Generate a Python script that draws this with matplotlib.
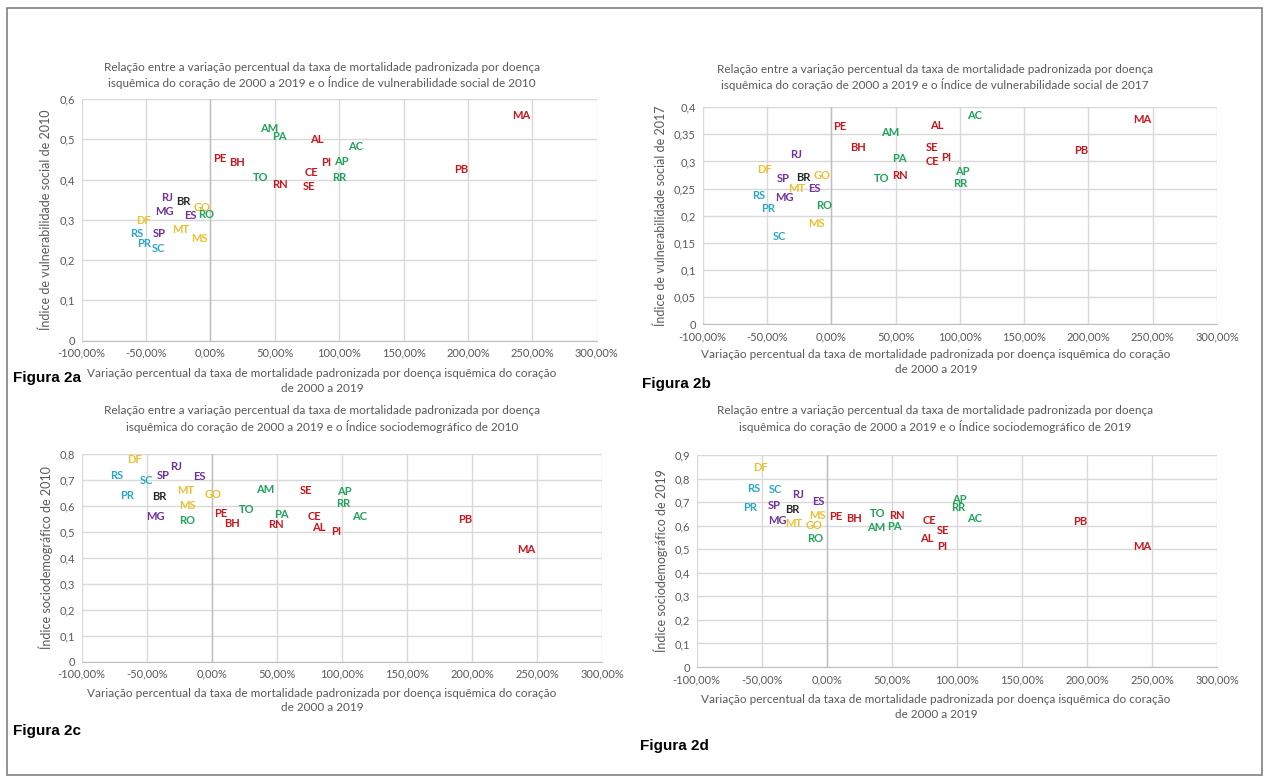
import matplotlib
matplotlib.use("Agg")
import matplotlib.pyplot as plt
from matplotlib.patches import Rectangle

W, H = 1269, 780
plt.rcParams['font.family'] = ['Lato', 'DejaVu Sans']

# ---- data (label positions) ----
states = ["AC", "AL", "AM", "AP", "BH", "BR", "CE", "DF", "ES", "GO", "MA", "MG", "MS",
          "MT", "PA", "PB", "PE", "PI", "PR", "RJ", "RN", "RO", "RR", "RS", "SC", "SE", "SP", "TO"]
region = ["N", "NE", "N", "N", "NE", "BR", "NE", "CO", "SE", "CO", "NE", "SE", "CO",
          "CO", "N", "NE", "NE", "NE", "S", "SE", "NE", "N", "N", "S", "S", "NE", "SE", "N"]

# Figura 2a: IVS 2010
x_2a = [112.8, 82.3, 46.0, 101.7, 21.0, -20.7, 78.4, -52.2, -15.3, -6.2, 241.7, -36.0, -8.8,
        -23.0, 53.8, 194.9, 7.2, 90.0, -51.4, -33.6, 53.8, -3.6, 100.4, -57.4, -40.1, 76.6, -40.1, 39.1]
y_2a = [0.482, 0.500, 0.527, 0.444, 0.442, 0.346, 0.417, 0.298, 0.312, 0.331, 0.560, 0.320, 0.254,
        0.275, 0.508, 0.424, 0.453, 0.442, 0.242, 0.356, 0.387, 0.314, 0.405, 0.266, 0.229, 0.382, 0.266, 0.405]
# Figura 2b: IVS 2017
x_2b = [111.6, 82.3, 45.9, 101.7, 20.8, -21.5, 78.4, -51.9, -13.5, -7.3, 241.9, -36.1, -11.7,
        -27.2, 53.2, 194.7, 6.5, 89.5, -48.8, -27.2, 53.2, -5.2, 100.4, -56.6, -40.2, 78.4, -37.6, 38.9]
y_2b = [0.384, 0.366, 0.354, 0.281, 0.326, 0.270, 0.300, 0.286, 0.251, 0.274, 0.377, 0.234, 0.186,
        0.251, 0.305, 0.320, 0.364, 0.307, 0.214, 0.312, 0.275, 0.219, 0.260, 0.237, 0.161, 0.326, 0.268, 0.268]
# Figura 2c: IDS 2010
x_2c = [113.3, 82.6, 41.0, 102.1, 15.4, -40.5, 78.7, -59.7, -9.5, 1.3, 241.8, -43.6, -18.5,
        -20.0, 53.8, 194.8, 7.2, 95.6, -64.9, -27.7, 49.2, -18.7, 101.3, -73.1, -50.0, 72.3, -37.2, 26.9]
y_2c = [0.559, 0.519, 0.666, 0.656, 0.534, 0.637, 0.559, 0.781, 0.714, 0.643, 0.434, 0.559, 0.601,
        0.660, 0.568, 0.550, 0.570, 0.501, 0.639, 0.752, 0.530, 0.546, 0.611, 0.718, 0.697, 0.662, 0.720, 0.585]
# Figura 2d: IDS 2019
x_2d = [113.3, 76.9, 37.7, 102.1, 21.0, -26.4, 78.7, -51.3, -6.2, -9.7, 242.3, -37.9, -6.9,
        -25.6, 51.8, 194.8, 7.2, 89.0, -59.0, -21.8, 53.8, -9.0, 100.8, -56.4, -39.5, 89.0, -40.5, 39.2]
y_2d = [0.629, 0.545, 0.593, 0.711, 0.629, 0.669, 0.624, 0.846, 0.704, 0.600, 0.511, 0.622, 0.644,
        0.611, 0.597, 0.617, 0.638, 0.511, 0.679, 0.733, 0.644, 0.545, 0.678, 0.758, 0.752, 0.580, 0.687, 0.651]

x_ticks = [-100, -50, 0, 50, 100, 150, 200, 250, 300]
titles = [
    "Relação entre a variação percentual da taxa de mortalidade padronizada por doença\nisquêmica do coração de 2000 a 2019 e o Índice de vulnerabilidade social de 2010",
    "Relação entre a variação percentual da taxa de mortalidade padronizada por doença\nisquêmica do coração de 2000 a 2019 e o Índice de vulnerabilidade social de 2017",
    "Relação entre a variação percentual da taxa de mortalidade padronizada por doença\nisquêmica do coração de 2000 a 2019 e o Índice sociodemográfico de 2010",
    "Relação entre a variação percentual da taxa de mortalidade padronizada por doença\nisquêmica do coração de 2000 a 2019 e o Índice sociodemográfico de 2019",
]
ylabels = ["Índice de vulnerabilidade social de 2010", "Índice de vulnerabilidade social de 2017",
           "Índice sociodemográfico de 2010", "Índice sociodemográfico de 2019"]
xlabel = "Variação percentual da taxa de mortalidade padronizada por doença isquêmica do coração\nde 2000 a 2019"
fig_labels = ["Figura 2a", "Figura 2b", "Figura 2c", "Figura 2d"]
y_limits = [(0, 0.6, 0.1), (0, 0.4, 0.05), (0, 0.8, 0.1), (0, 0.9, 0.1)]

colors = {"N": "#1FA35B", "NE": "#C8161D", "SE": "#7030A0", "BR": "#262626",
          "CO": "#EBC030", "S": "#2BA7C6"}

# ---- layout (pixels) ----
boxes = [(81.7, 596.7, 99, 340.7), (702.7, 1217, 107.3, 324),
         (81.7, 602, 454.3, 661.5), (696.7, 1217, 455, 667)]
title_pos = [(322, 75.5), (935, 77.5), (322, 419), (935, 419)]
xlabel_pos = [(322, 381), (936, 362), (322, 700.5), (936, 707)]
ylabel_x = [46, 661, 46, 661]
figlab_pos = [(13, 378), (642, 384), (13, 731), (640, 746)]

fig = plt.figure(figsize=(W / 100, H / 100), dpi=100)

def fx(x):
    return x / W

def fy(y):
    return 1 - y / H

fig.patches.append(Rectangle((fx(7), fy(775)), fx(1262) - fx(7), fy(8) - fy(775),
                             transform=fig.transFigure, fill=False, edgecolor="#808080", lw=1.2))

xs = [x_2a, x_2b, x_2c, x_2d]
ys = [y_2a, y_2b, y_2c, y_2d]

def fmt_y(v):
    if abs(v) < 1e-9:
        return "0"
    s = ("%.2f" % v).rstrip("0").rstrip(".")
    return s.replace(".", ",")

for i in range(4):
    l, r, t, b = boxes[i]
    ax = fig.add_axes([fx(l), fy(b), (r - l) / W, (b - t) / H])
    lo, hi, step = y_limits[i]
    n = int(round((hi - lo) / step))
    yt = [lo + k * step for k in range(n + 1)]
    ax.set_xlim(-100, 300)
    ax.set_ylim(lo, hi)
    ax.set_xticks(x_ticks)
    ax.set_xticklabels(["%d,00%%" % v for v in x_ticks])
    ax.set_yticks(yt)
    ax.set_yticklabels([fmt_y(v) for v in yt])
    ax.grid(True, color="#D9D9D9", lw=1.0)
    ax.set_axisbelow(True)
    for s in ["top", "right", "left"]:
        ax.spines[s].set_visible(False)
    ax.spines["bottom"].set_color("#BFBFBF")
    ax.axvline(0, color="#BFBFBF", lw=1.0, zorder=1)
    ax.tick_params(length=0, labelsize=8, colors="#595959", pad=5)
    for st, rg, xv, yv in zip(states, region, xs[i], ys[i]):
        ax.text(xv, yv, st, color=colors[rg], fontsize=8, fontweight="bold",
                ha="center", va="center", zorder=3)
    tx, ty = title_pos[i]
    fig.text(fx(tx), fy(ty), titles[i], ha="center", va="center", fontsize=8.5,
             color="#595959", linespacing=1.35)
    lx, ly = xlabel_pos[i]
    fig.text(fx(lx), fy(ly), xlabel, ha="center", va="center", fontsize=8.5,
             color="#595959", linespacing=1.35)
    fig.text(fx(ylabel_x[i]), fy((t + b) / 2), ylabels[i], rotation=90, ha="center",
             va="center", fontsize=9, color="#595959")
    gx, gy = figlab_pos[i]
    fig.text(fx(gx), fy(gy), fig_labels[i], ha="left", va="center", fontsize=11,
             fontweight="bold", color="black", family="Liberation Sans")

fig.savefig("out.png", dpi=100)
